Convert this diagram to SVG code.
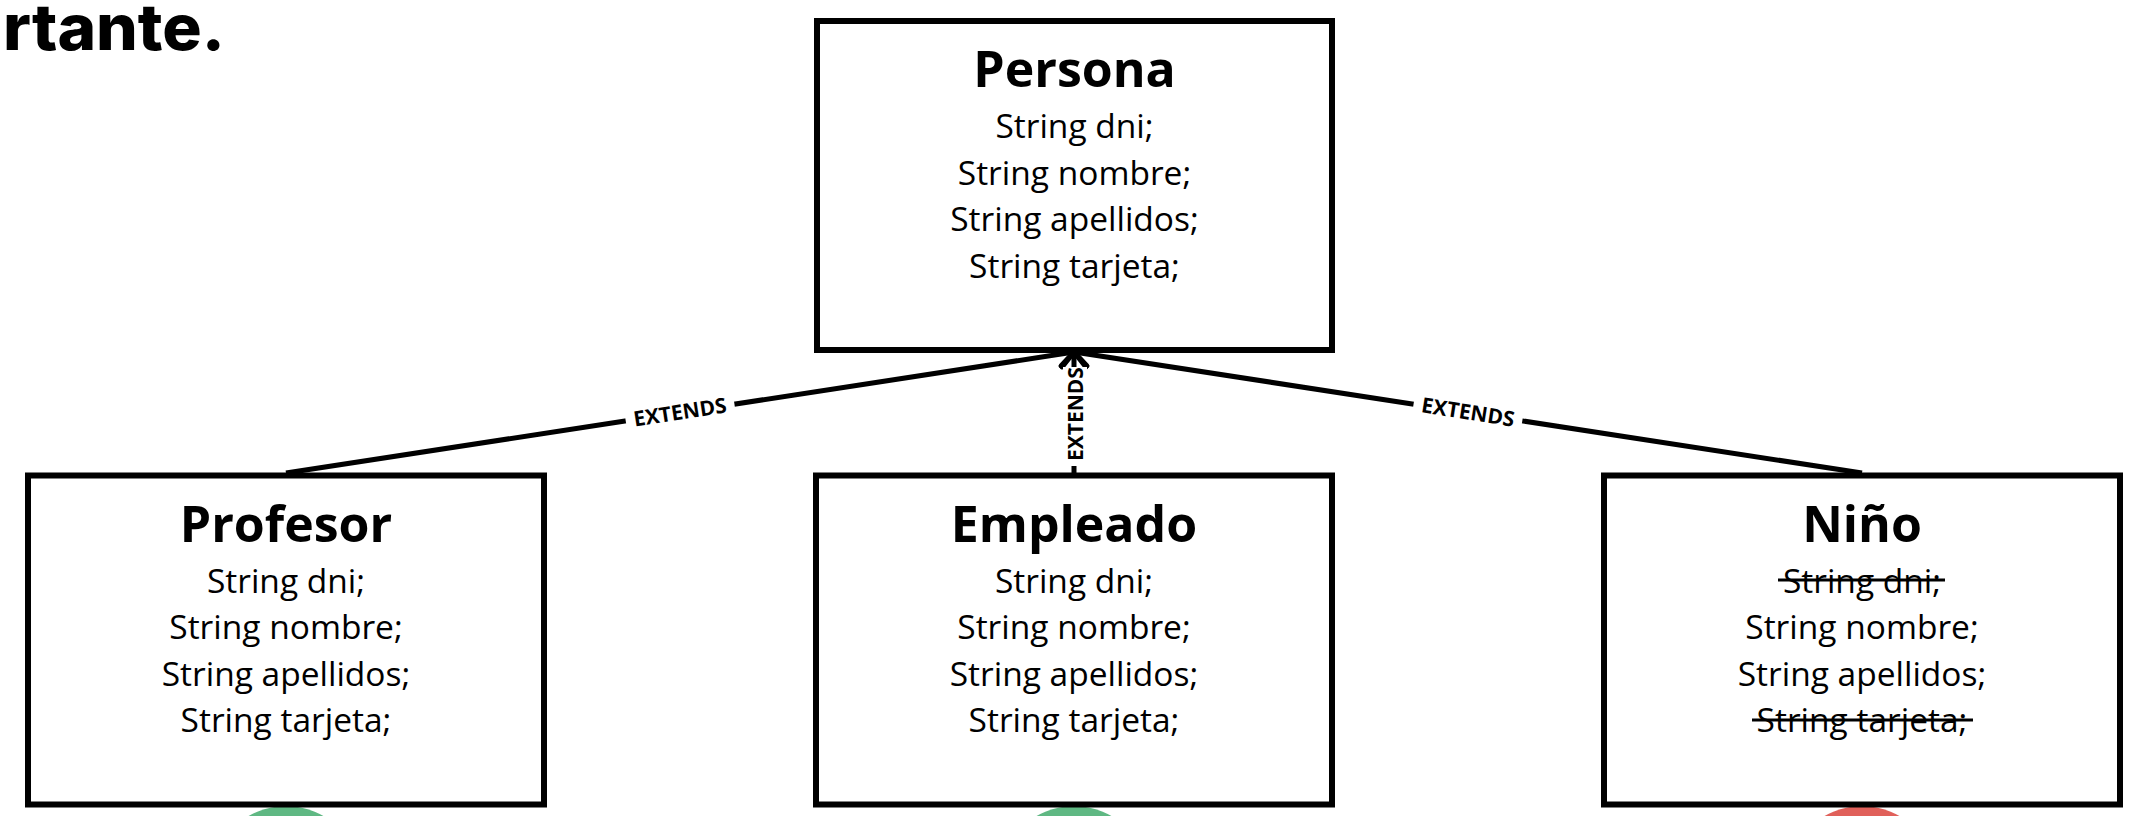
<svg xmlns="http://www.w3.org/2000/svg" width="2146" height="816" viewBox="0 0 2146 816">
  <style>
    .box { fill: #ffffff; stroke: #000000; stroke-width: 6; }
    .title { font-family: "Open Sans", "Noto Sans", "Liberation Sans", sans-serif; font-weight: 700; font-size: 50px; fill: #000; text-anchor: middle; }
    .attr { font-family: "Open Sans", "Noto Sans", "Liberation Sans", sans-serif; font-weight: 400; font-size: 33.5px; fill: #000; text-anchor: middle; }
    .conn { fill: none; stroke: #000; stroke-width: 5; }
    .lbl { font-family: "Open Sans", "Noto Sans", "Liberation Sans", sans-serif; font-weight: 700; font-size: 21px; fill: #000; text-anchor: middle; }
    .lblbg { fill: #ffffff; }
    .strike { stroke: #000; stroke-width: 3; }
    .heading { font-family: Inter, "Noto Sans", "Liberation Sans", sans-serif; font-weight: 800; font-size: 64px; fill: #000; }
  </style>
  <defs>
    <marker id="arr" markerUnits="userSpaceOnUse" markerWidth="40" markerHeight="40" refX="0" refY="0" orient="auto" style="overflow:visible">
      <path d="M -14 -13 L 0 0 L -14 13" fill="none" stroke="#000" stroke-width="5" stroke-linejoin="round" stroke-linecap="round"/>
    </marker>
  </defs>

  <rect width="2146" height="816" fill="#ffffff"/>

  <text class="heading" x="3" y="50" textLength="222" lengthAdjust="spacingAndGlyphs">rtante.</text>

  <g id="status-markers">
    <circle cx="286" cy="881" r="75" fill="#5fb883"/>
    <circle cx="1074" cy="881" r="75" fill="#5fb883"/>
    <circle cx="1862" cy="881" r="75" fill="#e0605a"/>
  </g>

  <g id="connectors">
    <line class="conn" x1="286" y1="473" x2="1074" y2="352" marker-end="url(#arr)"/>
    <line class="conn" x1="1862" y1="473" x2="1074" y2="352" marker-end="url(#arr)"/>
    <line class="conn" x1="1074" y1="473" x2="1074" y2="352" marker-end="url(#arr)"/>
    <g transform="translate(680,412) rotate(-8.8)">
      <rect class="lblbg" x="-55" y="-12" width="110" height="24"/>
      <text class="lbl" x="0" y="7.5">EXTENDS</text>
    </g>
    <g transform="translate(1075,414) rotate(-90)">
      <rect class="lblbg" x="-52" y="-12" width="99" height="24"/>
      <text class="lbl" x="0" y="7.5">EXTENDS</text>
    </g>
    <g transform="translate(1468,412) rotate(8.95)">
      <rect class="lblbg" x="-55" y="-12" width="110" height="24"/>
      <text class="lbl" x="0" y="7.5">EXTENDS</text>
    </g>
  </g>

  <g id="persona">
    <rect class="box" x="817" y="21" width="515" height="329"/>
    <text class="title" x="1074.5" y="87">Persona</text>
    <text class="attr" x="1074.5" y="138">String dni;</text>
    <text class="attr" x="1074.5" y="184.5">String nombre;</text>
    <text class="attr" x="1074.5" y="231">String apellidos;</text>
    <text class="attr" x="1074.5" y="277.5">String tarjeta;</text>
  </g>

  <g id="profesor">
    <rect class="box" x="28" y="475.5" width="516" height="329"/>
    <text class="title" x="286" y="541.5">Profesor</text>
    <text class="attr" x="286" y="592.5">String dni;</text>
    <text class="attr" x="286" y="639">String nombre;</text>
    <text class="attr" x="286" y="685.5">String apellidos;</text>
    <text class="attr" x="286" y="732">String tarjeta;</text>
  </g>

  <g id="empleado">
    <rect class="box" x="816" y="475.5" width="516" height="329"/>
    <text class="title" x="1074" y="541.5">Empleado</text>
    <text class="attr" x="1074" y="592.5">String dni;</text>
    <text class="attr" x="1074" y="639">String nombre;</text>
    <text class="attr" x="1074" y="685.5">String apellidos;</text>
    <text class="attr" x="1074" y="732">String tarjeta;</text>
  </g>

  <g id="nino">
    <rect class="box" x="1604" y="475.5" width="516" height="329"/>
    <text class="title" x="1862" y="541.5">Niño</text>
    <text class="attr" x="1862" y="592.5">String dni;</text>
    <line class="strike" x1="1778" y1="580" x2="1945" y2="580"/>
    <text class="attr" x="1862" y="639">String nombre;</text>
    <text class="attr" x="1862" y="685.5">String apellidos;</text>
    <text class="attr" x="1862" y="732">String tarjeta;</text>
    <line class="strike" x1="1752" y1="720" x2="1973" y2="720"/>
  </g>
</svg>
